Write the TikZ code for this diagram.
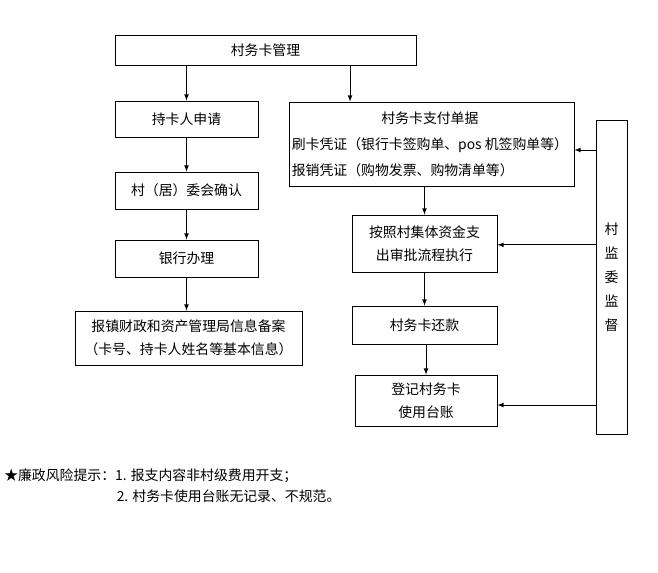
\documentclass[tikz,border=0pt]{standalone}
\usepackage{fontspec}
\setmainfont{Noto Sans CJK SC}
\usetikzlibrary{arrows, positioning, calc}

\begin{document}
\begin{tikzpicture}[
    x=0.75pt, y=-0.75pt,
    box/.style={
        rectangle,
        draw=black,
        line width=0.6pt,
        inner sep=0pt,
        align=center,
        font=\fontsize{10.4}{17}\selectfont
    },
    arrow/.style={
        ->,
        >=latex,
        line width=0.6pt,
        black
    },
    tip/.style={
        anchor=west,
        inner sep=0pt,
        font=\fontsize{10.4}{15}\selectfont
    }
]
\useasboundingbox (0,0) rectangle (658,573);

% Top box
\node[box, minimum width=225.75pt, minimum height=22.5pt] (mgmt) at (265.5,50) {村务卡管理};

% Left chain
\node[box, minimum width=107.25pt, minimum height=27pt] (apply) at (186.5,119) {持卡人申请};
\node[box, minimum width=107.25pt, minimum height=27.75pt] (confirm) at (186.5,190.5) {村（居）委会确认};
\node[box, minimum width=107.25pt, minimum height=27.75pt] (bank) at (186.5,258.5) {银行办理};
\node[box, minimum width=170.25pt, minimum height=40.5pt] (report) at (188.5,338) {
    报镇财政和资产管理局信息备案\\
    （卡号、持卡人姓名等基本信息）
};

% Right chain
\node[box, minimum width=213.75pt, minimum height=63pt] (pay) at (431.5,144) {
    \renewcommand{\arraystretch}{1.15}%
    \begin{tabular}{@{}l@{}}
    \multicolumn{1}{@{}c@{}}{村务卡支付单据}\\
    刷卡凭证（银行卡签购单、pos 机签购单等）\\
    报销凭证（购物发票、购物清单等）
    \end{tabular}
};
\node[box, minimum width=108.75pt, minimum height=42.75pt] (approve) at (424.5,243.5) {
    按照村集体资金支\\
    出审批流程执行
};
\node[box, minimum width=108.75pt, minimum height=28.5pt] (repay) at (424.5,325) {村务卡还款};
\node[box, minimum width=106.5pt, minimum height=38.25pt] (ledger) at (426,400.5) {
    登记村务卡\\
    使用台账
};

% Supervision column
\node[box, minimum width=23.25pt, minimum height=235.5pt, font=\fontsize{10.4}{18}\selectfont] (watch) at (611.5,277) {
    村\\监\\委\\监\\督
};

% Connections
\draw[arrow] (mgmt.south -| apply.north) -- (apply.north);
\draw[arrow] (apply) -- (confirm);
\draw[arrow] (confirm) -- (bank);
\draw[arrow] (bank.south) -- (bank.south |- report.north);
\draw[arrow] ([xshift=-61.1pt]pay.north |- mgmt.south) -- ([xshift=-61.1pt]pay.north);
\draw[arrow] (pay.south -| approve.north) -- (approve.north);
\draw[arrow] (approve) -- (repay);
\draw[arrow] (repay.south -| ledger.north) -- (ledger.north);

\draw[arrow] ([yshift=-4.5pt]watch.west |- pay.east) -- ([yshift=-4.5pt]pay.east);
\draw[arrow] ([yshift=-1pt]watch.west |- approve.east) -- ([yshift=-1pt]approve.east);
\draw[arrow] ([yshift=-3.4pt]watch.west |- ledger.east) -- ([yshift=-3.4pt]ledger.east);

% Risk notes
\node[tip] (tip1) at (4,476) {★廉政风险提示：1. 报支内容非村级费用开支；};
\node[tip] (tip2) at (116.5,496) {2. 村务卡使用台账无记录、不规范。};

\end{tikzpicture}
\end{document}
